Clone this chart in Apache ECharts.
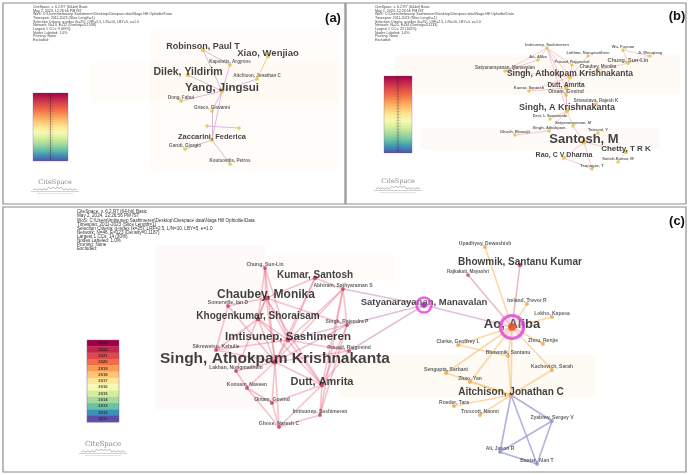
<!DOCTYPE html>
<html>
<head>
<meta charset="utf-8">
<script src="https://cdn.jsdelivr.net/npm/echarts@6/dist/echarts.min.js"></script>
<style>
  html, body { margin: 0; padding: 0; background: #ffffff; }
  #chart { width: 688px; height: 475px; }
</style>
</head>
<body>
<div id="chart"></div>
<script>
// ---------- Co-authorship networks (CiteSpace layouts) ----------

// (a) Yang Jingsui group
const namesA = ['Robinson, Paul T', 'Xiao, Wenjiao', 'Kapsiotis, Argyrios', 'Dilek, Yildirim',
  'Aitchison, Jonathan C', 'Yang, Jingsui', 'Dong, Fahui', 'Grieco, Giovanni', '', '',
  'Zaccarini, Federica', 'Garuti, Giorgio', 'Koutsovitis, Petros'];
const layoutXA = [203, 268, 230, 188, 257, 222, 181, 212, 207, 239, 212, 185, 230];
const layoutYA = [50, 56, 65, 75, 79, 91, 101, 111, 126, 128, 140, 149, 164];
const countsA = [12, 13, 3, 15, 3, 17, 3, 3, 0, 0, 9, 3, 3];
const linksA = [[0, 5], [0, 2], [2, 5], [1, 4], [4, 5], [3, 5], [5, 6], [5, 7], [7, 10], [5, 10],
  [10, 11], [10, 12], [8, 9]];

// (b) Santosh / Singh group
const namesB = ['Imtisunep, Sashimeren', 'Wu, Fuyuan', 'Ji, Wenqiang', 'Ao, Aliba', 'Lakhan, Nongmaithem',
  'Chung, Sun-Lin', 'Prasad, Rajgovind', 'Satyanarayanan, Manavalan', 'Chaubey, Monika',
  'Singh, Athokpam Krishnakanta', 'Dutt, Amrita', 'Kumar, Santosh', 'Oinam, Govind',
  'Srivastava, Rajesh K', 'Singh, A Krishnakanta', 'Devi, L Sanatombi', 'Satyanarayanan, M',
  'Singh, Athokpam', 'Ghosh, Biswajit', 'Tatsumi, Y', 'Santosh, M', 'Chetty, T R K',
  'Rao, C V Dharma', 'Satish-Kumar, M', 'Tsunogae, T'];
const layoutXB = [547, 623, 650, 538, 588, 628, 572, 505, 598, 570, 566, 529, 566, 596, 567, 550, 573, 549, 515, 598, 584, 626, 564, 618, 592];
const layoutYB = [48, 50, 56, 60, 56, 63, 65, 71, 70, 77, 88, 91, 95, 104, 111, 119, 126, 131, 135, 133, 142, 152, 158, 162, 169];
const countsB = [2, 2, 2, 2, 2, 5, 2, 3, 3, 11, 7, 2, 4, 3, 12, 2, 2, 2, 2, 2, 20, 10, 8, 2, 2];
const linksB = [[0, 3], [0, 7], [0, 9], [0, 6], [0, 10], [3, 7], [7, 9], [4, 9], [6, 9], [8, 9], [9, 10],
  [10, 12], [9, 12], [10, 14], [12, 14], [14, 15], [14, 16], [14, 17], [17, 18], [14, 13], [20, 21],
  [20, 22], [20, 24], [21, 23], [20, 19], [22, 24], [5, 8], [1, 2], [2, 5], [1, 5], [9, 11], [11, 10],
  [0, 14], [16, 20]];

// (c) Naga Hills ophiolite authors
const namesC = ['Chung, Sun-Lin', 'Kumar, Santosh', 'Abhiram, Sathyaraman S', 'Chaubey, Monika',
  'Somerville, Ian D', 'Khogenkumar, Shoraisam', 'Singh, Rajendra P', 'Imtisunep, Sashimeren',
  'Sikrewetsu, Kehulie', 'Prasad, Rajgovind', 'Singh, Athokpam Krishnakanta', 'Lakhan, Nongmaithem',
  'Konsam, Naveen', 'Dutt, Amrita', 'Oinam, Govind', 'Imtisunep, Sashimeren', 'Ghose, Naresh C',
  'Upadhyay, Dewashish', 'Bhowmik, Santanu Kumar', 'Rajkakati, Mayashri', 'Satyanarayanan, Manavalan',
  'Ireland, Trevor R', 'Lokho, Kapesa', 'Ao, Aliba', 'Clarke, Geoffrey L', 'Zhou, Renjie',
  'Bhowmik, Santanu', 'Sengupta, Sarbani', 'Kachovich, Sarah', 'Zhao, Yan', 'Aitchison, Jonathan C',
  'Roeder, Tara', 'Truscott, Naomi', 'Zyabrev, Sergey V', 'Ali, Jason R', 'Baxter, Alan T'];
const layoutXC = [265, 315, 343, 266, 228, 258, 347, 288, 216, 349, 275, 236, 247, 322, 272, 320, 279,
  485, 520, 468, 424, 527, 552, 512, 458, 543, 508, 446, 552, 470, 511, 454, 480, 552, 500, 537];
const layoutYC = [268, 278, 289, 298, 306, 319, 325, 340, 350, 351, 362, 371, 388, 385, 403, 415, 427,
  247, 265, 275, 305, 304, 317, 327, 345, 344, 356, 373, 370, 382, 395, 406, 415, 421, 452, 464];
const countsC = [4, 14, 4, 18, 4, 14, 4, 17, 4, 4, 25, 4, 4, 16, 4, 4, 4,
  4, 14, 3, 13, 4, 4, 20, 4, 4, 4, 4, 4, 4, 14, 4, 4, 4, 4, 4];
// cluster of each author: r = Indian group, p/a = bridging authors, o = Aitchison group, b = radiolarian group, k = Bhowmik
const clusterC = ['r', 'r', 'r', 'r', 'r', 'r', 'r', 'r', 'r', 'r', 'r', 'r', 'r', 'r', 'r', 'r', 'r',
  'o', 'k', 'k', 'p', 'o', 'o', 'a', 'o', 'o', 'o', 'o', 'o', 'o', 'o', 'o', 'o', 'b', 'b', 'b'];
const linksC = [[0, 3], [0, 5], [0, 7], [0, 10], [1, 3], [1, 7], [1, 10], [1, 2], [2, 7], [2, 13], [2, 10],
  [2, 6], [3, 4], [3, 5], [3, 7], [3, 10], [3, 11], [3, 13], [3, 6], [4, 10], [5, 7], [5, 10], [5, 13],
  [5, 8], [6, 10], [6, 13], [7, 10], [7, 13], [7, 9], [7, 8], [8, 10], [10, 11], [10, 12], [10, 13],
  [10, 14], [10, 16], [10, 9], [11, 12], [12, 14], [13, 14], [13, 15], [13, 16], [14, 16], [15, 16],
  [9, 13], [2, 15], [6, 15], [12, 16], [4, 8],
  [20, 2], [20, 7], [20, 9], [20, 23],
  [23, 17], [23, 18], [23, 19], [23, 21], [23, 22], [23, 24], [23, 25], [23, 26], [23, 27], [23, 28],
  [23, 29], [23, 30], [30, 26], [30, 27], [30, 29], [30, 31], [30, 32], [30, 28], [26, 24],
  [30, 33], [30, 34], [30, 35], [33, 34], [33, 35], [34, 35]];

// colour legend years, newest on top
const yearsC = ['2023', '2022', '2021', '2020', '2019', '2018', '2017', '2016', '2015', '2014', '2013', '2012', '2011'];
const yearColours = ['#9e0142', '#c2254c', '#dc4a4c', '#f26d44', '#f99b57', '#fdc473', '#fee796',
  '#f5fab2', '#d5ee9b', '#a3da9f', '#68c2a4', '#3f8fb8', '#5a4ea2'];

const FONT = '"Liberation Sans", Arial, sans-serif';
const fontForCount = c => 3 + c * 0.5;

const chart = echarts.init(document.getElementById('chart'), null, { renderer: 'canvas' });

const panels = [
  { left: 3, top: 3, width: 342, height: 201 },
  { left: 346, top: 3, width: 340, height: 201 },
  { left: 3, top: 207, width: 683, height: 265 }
];

const grids = panels.map(p => ({
  left: p.left, top: p.top, width: p.width, height: p.height,
  show: true, borderColor: '#8c8c8c', borderWidth: 1.2, backgroundColor: 'transparent'
}));
const xAxes = panels.map((p, i) => ({ type: 'value', gridIndex: i, min: p.left, max: p.left + p.width, show: false }));
const yAxes = panels.map((p, i) => ({ type: 'value', gridIndex: i, min: p.top, max: p.top + p.height, inverse: true, show: false }));

function edgeSeries(idx, xs, ys, links, colourOf, width) {
  return {
    type: 'lines', coordinateSystem: 'cartesian2d', xAxisIndex: idx, yAxisIndex: idx,
    silent: true, z: 2,
    data: links.map(([s, t]) => ({
      coords: [[xs[s], ys[s]], [xs[t], ys[t]]],
      lineStyle: { color: colourOf(s, t), width: width, opacity: 1 }
    }))
  };
}

function nodeSeries(idx, names, xs, ys, counts, colourOf) {
  return {
    type: 'scatter', xAxisIndex: idx, yAxisIndex: idx, silent: true, z: 3,
    data: names.map((n, i) => ({
      value: [xs[i], ys[i]],
      name: n,
      symbolSize: 3.5 + Math.min(counts[i], 20) * 0.08,
      itemStyle: { color: colourOf(i) },
      label: {
        show: n !== '', formatter: n, position: 'inside', offset: [0, -3],
        fontFamily: FONT, fontWeight: 'bold', fontSize: fontForCount(counts[i]),
        color: counts[i] > 6 ? '#111111' : '#3a3a3a'
      }
    }))
  };
}

const clusterDot = { r: '#c8395a', p: '#9a3fa8', o: '#f0a443', b: '#8b8fd2', a: '#e8542e', k: '#c4405f' };
function edgeColourC(s, t) {
  const a = clusterC[s], b = clusterC[t];
  if (a === 'b' || b === 'b') return 'rgba(150,152,212,0.75)';
  if (a === 'p' || b === 'p') return 'rgba(205,150,195,0.6)';
  if (a === 'r' && b === 'r') return 'rgba(232,110,130,0.42)';
  if (a === 'k' || b === 'k') return 'rgba(222,140,160,0.6)';
  return 'rgba(250,190,110,0.6)';
}

const series = [
  edgeSeries(0, layoutXA, layoutYA, linksA, (s, t) => (s === 1 || t === 1) ? 'rgba(236,200,90,0.85)' : 'rgba(205,160,210,0.75)', 1),
  nodeSeries(0, namesA, layoutXA, layoutYA, countsA, () => '#e6c23c'),
  edgeSeries(1, layoutXB, layoutYB, linksB, () => 'rgba(238,160,175,0.55)', 1),
  nodeSeries(1, namesB, layoutXB, layoutYB, countsB, () => '#e6c23c'),
  edgeSeries(2, layoutXC, layoutYC, linksC, edgeColourC, 1.6),
  nodeSeries(2, namesC, layoutXC, layoutYC, countsC, i => clusterDot[clusterC[i]]),
  // burst rings around the two bridging authors
  {
    type: 'scatter', xAxisIndex: 2, yAxisIndex: 2, silent: true, z: 4,
    data: [20, 23].map(i => ({
      value: [layoutXC[i], layoutYC[i]],
      symbolSize: i === 23 ? 23 : 15,
      itemStyle: {
        color: i === 23 ? 'rgba(255,190,235,0.35)' : 'rgba(255,200,240,0.25)',
        borderColor: '#e040d8', borderWidth: i === 23 ? 3.2 : 2.4
      }
    }))
  },
  {
    type: 'scatter', xAxisIndex: 2, yAxisIndex: 2, silent: true, z: 5,
    data: [20, 23].map(i => ({
      value: [layoutXC[i], layoutYC[i]],
      symbolSize: i === 23 ? 8 : 6,
      itemStyle: { color: clusterDot[clusterC[i]] }
    }))
  }
];

// ---------- decorations: header text, colour bars, logo, haze bands ----------
function headerLines(n, e, density, cc, pct) {
  return [
    'CiteSpace, v. 6.2.R7 (64-bit) Basic',
    'May 2, 2024, 12:26:56 PM IST',
    'WoS: C:\\Users\\Imtisunep Sashimeren\\Desktop\\Citespace data\\Naga Hill Ophiolite\\Data',
    'Timespan: 2011-2023 (Slice Length=1)',
    'Selection Criteria: g-index (k=25), LRF=2.5, L/N=10, LBY=5, e=1.0',
    'Network: N=' + n + ', E=' + e + ' (Density=' + density + ')',
    'Largest 1 CCs: ' + cc + ' (' + pct + ')',
    'Nodes Labeled: 1.0%',
    'Pruning: None',
    'Excluded:'
  ].join('\n');
}

const graphics = [];

// faint cluster haze
[[150, 30, 190, 140, 'rgba(252,236,215,0.16)'], [90, 62, 250, 40, 'rgba(252,238,220,0.14)'],
 [395, 55, 285, 40, 'rgba(252,232,212,0.18)'], [420, 128, 240, 22, 'rgba(250,230,215,0.18)'],
 [155, 245, 110, 165, 'rgba(252,238,232,0.28)'], [265, 255, 130, 25, 'rgba(252,236,222,0.2)'],
 [340, 355, 255, 42, 'rgba(252,236,210,0.24)']].forEach(([x, y, w, h, c]) => {
  graphics.push({ type: 'rect', shape: { x: x, y: y, width: w, height: h }, style: { fill: c }, z: -1, silent: true });
});

// header blocks
graphics.push({ type: 'text', x: 33, y: 5, silent: true,
  style: { text: headerLines(13, 12, 0.1538, 9, '69%'), fontFamily: FONT, fontSize: 3.6, lineHeight: 3.7, fill: '#444' } });
graphics.push({ type: 'text', x: 375, y: 5, silent: true,
  style: { text: headerLines(25, 34, 0.1133, 25, '100%'), fontFamily: FONT, fontSize: 3.6, lineHeight: 3.7, fill: '#444' } });
graphics.push({ type: 'text', x: 77, y: 210, silent: true,
  style: { text: headerLines(46, 123, 0.1187, 14, '30%'), fontFamily: FONT, fontSize: 4.6, lineHeight: 4.1, fill: '#333' } });

// panel letters
[['(a)', 333, 18], ['(b)', 677, 16], ['(c)', 677, 221]].forEach(([t, x, y]) => {
  graphics.push({ type: 'text', x: x, y: y, silent: true,
    style: { text: t, fontFamily: FONT, fontWeight: 'bold', fontSize: 13, fill: '#111', align: 'center', verticalAlign: 'middle' } });
});

// gradient time bars for (a) and (b)
const gradStops = yearColours.map((c, i) => ({ offset: i / (yearColours.length - 1), color: c }));
[[33, 93, 35, 68], [384, 76, 28, 77]].forEach(([x, y, w, h]) => {
  graphics.push({ type: 'rect', silent: true, shape: { x: x, y: y, width: w, height: h },
    style: { fill: { type: 'linear', x: 0, y: 0, x2: 0, y2: 1, colorStops: gradStops }, stroke: 'rgba(120,90,150,0.5)', lineWidth: 0.6 } });
  graphics.push({ type: 'line', silent: true, shape: { x1: x + w / 2, y1: y, x2: x + w / 2, y2: y + h },
    style: { stroke: 'rgba(60,30,50,0.45)', lineWidth: 0.8 } });
  for (let k = 1; k < 26; k++) {
    const ty = y + h * k / 26;
    graphics.push({ type: 'line', silent: true, shape: { x1: x + w / 2 - 3, y1: ty, x2: x + w / 2 + 3, y2: ty },
      style: { stroke: 'rgba(60,30,50,0.25)', lineWidth: 0.5 } });
  }
});

// year legend for (c)
const barC = { x: 87, y: 340, w: 32, h: 82 };
yearsC.forEach((yr, i) => {
  const ch = barC.h / yearsC.length;
  graphics.push({ type: 'rect', silent: true, shape: { x: barC.x, y: barC.y + i * ch, width: barC.w, height: ch + 0.3 },
    style: { fill: yearColours[i] } });
  graphics.push({ type: 'text', silent: true, x: barC.x + barC.w / 2, y: barC.y + (i + 0.5) * ch,
    style: { text: yr, fontFamily: FONT, fontWeight: 'bold', fontSize: 4.2, fill: 'rgba(40,30,30,0.85)', align: 'center', verticalAlign: 'middle' } });
});
graphics.push({ type: 'rect', silent: true, shape: { x: barC.x, y: barC.y, width: barC.w, height: barC.h },
  style: { fill: 'none', stroke: 'rgba(140,90,170,0.6)', lineWidth: 0.8 } });

// CiteSpace logos
[[55, 182, 6.5], [398, 181, 6.5], [103, 444, 7]].forEach(([cx, cy, fs]) => {
  graphics.push({ type: 'text', silent: true, x: cx, y: cy,
    style: { text: 'CiteSpace', fontFamily: '"DejaVu Serif", serif', fontSize: fs, fill: '#8a8a8a', align: 'center', verticalAlign: 'middle' } });
  const pts = [];
  for (let k = 0; k <= 20; k++) {
    const px = cx - 22 + k * 2.2;
    pts.push([px, cy + 8 - (k % 2 ? 1.2 : 0) - (k > 6 && k < 14 ? 1.5 : 0)]);
  }
  graphics.push({ type: 'polyline', silent: true, shape: { points: pts }, style: { stroke: '#9a9a9a', lineWidth: 0.7, fill: null } });
  graphics.push({ type: 'line', silent: true, shape: { x1: cx - 24, y1: cy + 9.5, x2: cx + 24, y2: cy + 9.5 }, style: { stroke: '#b0b0b0', lineWidth: 0.6 } });
  graphics.push({ type: 'line', silent: true, shape: { x1: cx - 18, y1: cy + 11.5, x2: cx + 18, y2: cy + 11.5 }, style: { stroke: '#c4c4c4', lineWidth: 0.5 } });
});

chart.setOption({
  animation: false,
  backgroundColor: '#ffffff',
  grid: grids,
  xAxis: xAxes,
  yAxis: yAxes,
  series: series,
  graphic: { elements: graphics }
});
</script>
</body>
</html>
